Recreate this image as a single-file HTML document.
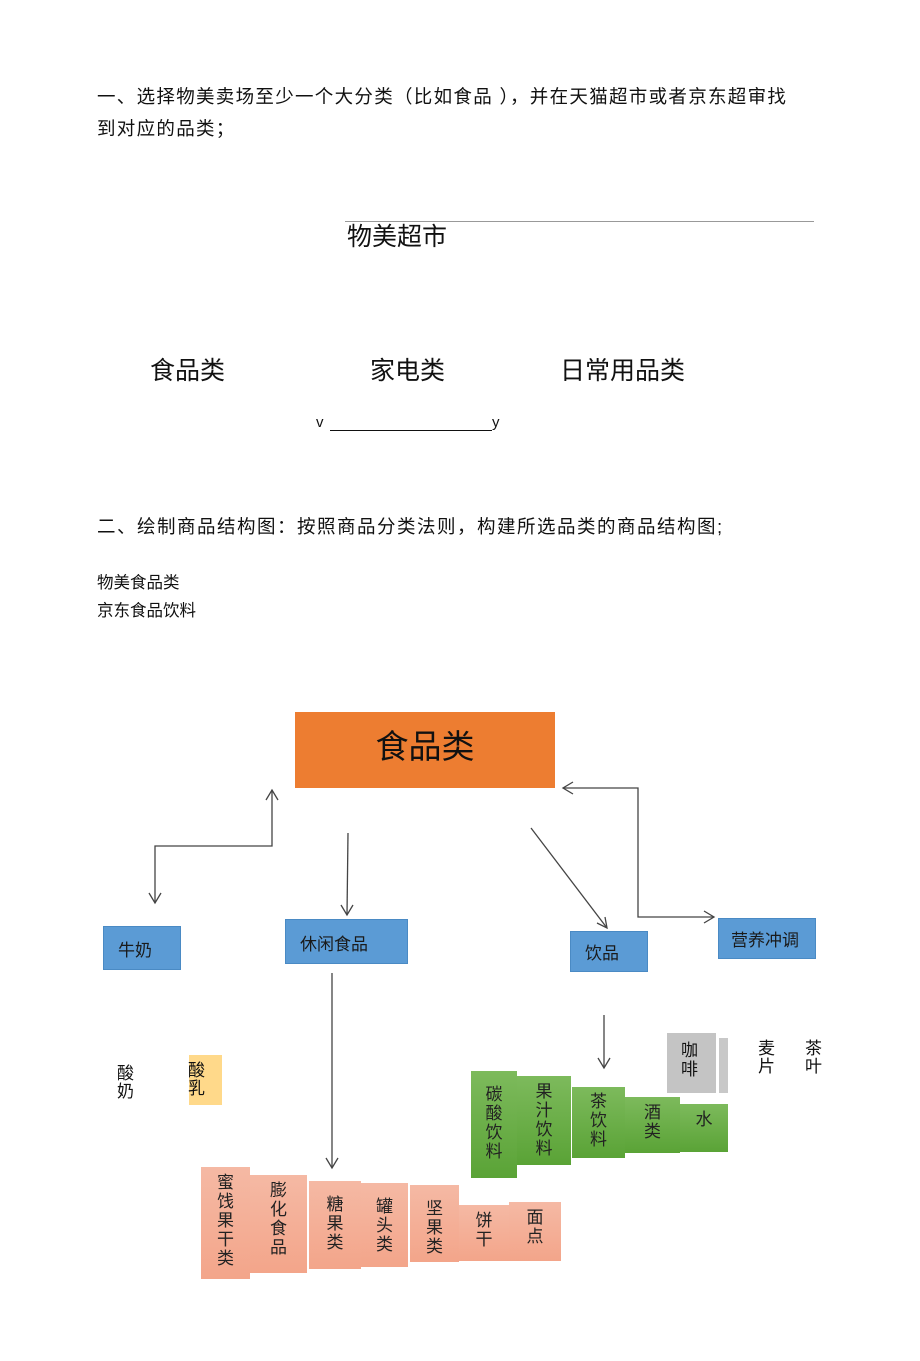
<!DOCTYPE html>
<html><head><meta charset="utf-8"><style>
body{margin:0;width:920px;height:1361px;background:#fff;position:relative;overflow:hidden;font-family:"Liberation Sans","Noto Sans CJK SC",sans-serif;color:#111}
.t{position:absolute;white-space:nowrap;line-height:1}
.b{position:absolute;box-sizing:border-box}
.blue{background:#5b9bd5;border:1px solid #4a8ac4;font-size:17px;padding-left:14px;display:flex;align-items:center;color:#1a1a1a}
.v{position:absolute;box-sizing:border-box;font-size:17px;line-height:19px;text-align:center;padding-top:10px;color:#222}
.pk{background:linear-gradient(#f5b9a4,#f3a58a)}
.gr{background:linear-gradient(#7dba5c,#5aa336)}
</style></head><body>
<div class="t" style="left:97px;top:88px;font-size:18.5px;letter-spacing:1.3px">一、选择物美卖场至少一个大分类（比如食品&nbsp;），并在天猫超市或者京东超审找</div>
<div class="t" style="left:97px;top:120px;font-size:18.5px;letter-spacing:1.3px">到对应的品类；</div>
<div class="b" style="left:345px;top:221px;width:469px;height:1px;background:#999"></div>
<div class="t" style="left:347px;top:225px;font-size:25px">物美超市</div>
<div class="t" style="left:150px;top:359px;font-size:25px">食品类</div>
<div class="t" style="left:370px;top:359px;font-size:25px">家电类</div>
<div class="t" style="left:560px;top:359px;font-size:25px">日常用品类</div>
<div class="t" style="left:316px;top:415px;font-size:15px">v</div>
<div class="b" style="left:330px;top:430px;width:162px;height:1px;background:#111"></div>
<div class="t" style="left:492px;top:415px;font-size:15px">y</div>
<div class="t" style="left:97px;top:518px;font-size:18.5px;letter-spacing:1.5px">二、绘制商品结构图：按照商品分类法则，构建所选品类的商品结构图;</div>
<div class="t" style="left:97px;top:575px;font-size:16.5px">物美食品类</div>
<div class="t" style="left:97px;top:603px;font-size:16.5px">京东食品饮料</div>

<div class="b" style="left:295px;top:712px;width:260px;height:76px;background:#ed7d31;font-size:33px;display:flex;align-items:center;justify-content:center;padding-bottom:12px">食品类</div>
<div class="b blue" style="left:103px;top:926px;width:78px;height:44px">牛奶</div>
<div class="b blue" style="left:285px;top:919px;width:123px;height:45px;align-items:flex-start;padding-top:10px">休闲食品</div>
<div class="b blue" style="left:570px;top:931px;width:78px;height:41px">饮品</div>
<div class="b blue" style="left:718px;top:918px;width:98px;height:41px;padding-left:12px">营养冲调</div>

<svg class="b" style="left:0;top:0" width="920" height="1361" fill="none" stroke="#444" stroke-width="1.3">
<polyline points="155,903 155,846 272,846 272,790"/>
<polyline points="149,893 155,903 161,893"/><polyline points="266,800 272,790 278,800"/>
<line x1="348" y1="833" x2="347" y2="915"/><polyline points="341,905 347,915 353,905"/>
<line x1="531" y1="828" x2="607" y2="928"/><polyline points="597,923 607,928 605,917"/>
<polyline points="563,788 638,788 638,917 714,917"/>
<polyline points="573,782 563,788 573,794"/><polyline points="704,911 714,917 704,923"/>
<line x1="332" y1="973" x2="332" y2="1168"/><polyline points="326,1158 332,1168 338,1158"/>
<line x1="604" y1="1015" x2="604" y2="1068"/><polyline points="598,1058 604,1068 610,1058"/>
</svg>

<div class="t" style="left:117px;top:1065px;font-size:17px;line-height:18px">酸<br>奶</div>
<div class="b" style="left:189px;top:1055px;width:33px;height:50px;background:#ffd98a"></div>
<div class="t" style="left:188px;top:1062px;font-size:17px;line-height:18px">酸<br>乳</div>
<div class="b" style="left:667px;top:1033px;width:49px;height:60px;background:#c4c4c4"></div>
<div class="t" style="left:681px;top:1041px;font-size:17px;line-height:19px">咖<br>啡</div>
<div class="b" style="left:719px;top:1038px;width:9px;height:55px;background:#c8c8c8"></div>
<div class="t" style="left:758px;top:1040px;font-size:17px;line-height:18px">麦<br>片</div>
<div class="t" style="left:805px;top:1040px;font-size:17px;line-height:18px">茶<br>叶</div>

<div class="v gr" style="left:471px;top:1071px;width:46px;height:107px;padding-top:14px">碳<br>酸<br>饮<br>料</div>
<div class="v gr" style="left:517px;top:1076px;width:54px;height:89px;padding-top:6px">果<br>汁<br>饮<br>料</div>
<div class="v gr" style="left:572px;top:1087px;width:53px;height:71px;padding-top:5px">茶<br>饮<br>料</div>
<div class="v gr" style="left:625px;top:1097px;width:55px;height:56px;padding-top:6px">酒<br>类</div>
<div class="v gr" style="left:680px;top:1104px;width:48px;height:48px;padding-top:6px">水</div>

<div class="v pk" style="left:201px;top:1167px;width:49px;height:112px;padding-top:6px">蜜<br>饯<br>果<br>干<br>类</div>
<div class="v pk" style="left:250px;top:1175px;width:57px;height:98px;padding-top:6px">膨<br>化<br>食<br>品</div>
<div class="v pk" style="left:309px;top:1181px;width:52px;height:88px;padding-top:14px">糖<br>果<br>类</div>
<div class="v pk" style="left:361px;top:1183px;width:47px;height:84px;padding-top:14px">罐<br>头<br>类</div>
<div class="v pk" style="left:410px;top:1185px;width:49px;height:77px;padding-top:14px">坚<br>果<br>类</div>
<div class="v pk" style="left:459px;top:1205px;width:50px;height:56px;padding-top:6px">饼<br>干</div>
<div class="v pk" style="left:509px;top:1202px;width:52px;height:59px;padding-top:6px">面<br>点</div>
</body></html>
